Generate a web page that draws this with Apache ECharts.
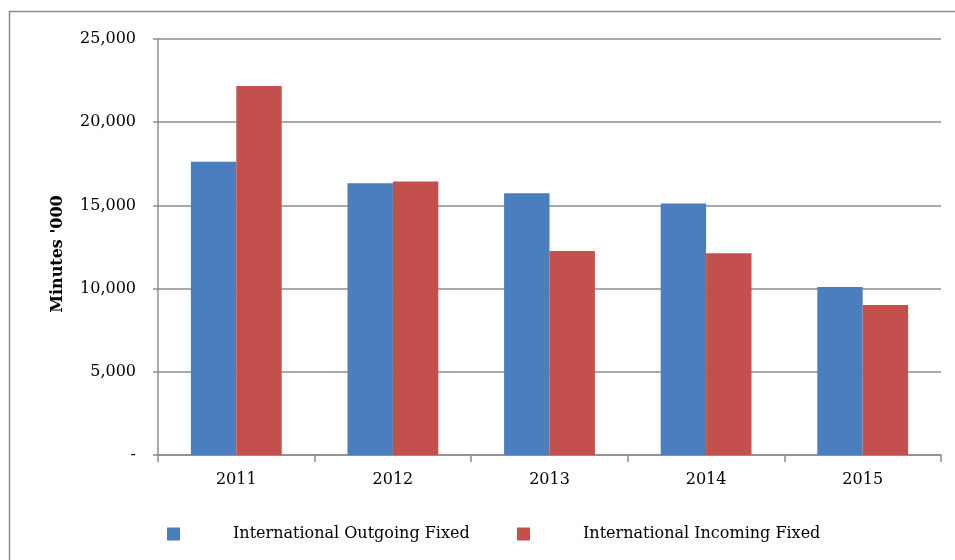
<!DOCTYPE html>
<html>
<head>
<meta charset="utf-8">
<script src="https://cdn.jsdelivr.net/npm/echarts@6/dist/echarts.min.js"></script>
<style>
  html, body { margin: 0; padding: 0; background: #fff; }
  #chart { width: 955px; height: 560px; }
</style>
</head>
<body>
<div id="chart"></div>
<script>
// data (minutes '000)
var years = ['2011', '2012', '2013', '2014', '2015'];
var outgoing = [17630, 16330, 15730, 15120, 10100];
var incoming = [22180, 16430, 12260, 12120, 9010];
var seriesNames = ['International Outgoing Fixed', 'International Incoming Fixed'];

var serif = '"DejaVu Serif", "Liberation Serif", serif';
var gridGrey = '#8c8c8c';

var chart = echarts.init(document.getElementById('chart'));

var option = {
  animation: false,
  textStyle: { fontFamily: serif },
  graphic: [{
    type: 'rect',
    shape: { x: 9.5, y: 11.5, width: 980, height: 600 },
    style: { fill: 'none', stroke: gridGrey, lineWidth: 1.5 },
    silent: true
  }],
  grid: { left: 158, right: 14, top: 39, bottom: 105 },
  legend: [{
    data: [seriesNames[0]],
    left: 162, top: 521,
    itemWidth: 13, itemHeight: 13,
    icon: 'rect',
    textStyle: { fontFamily: serif, fontSize: 16, color: '#000', padding: [0, 0, 0, 48] }
  }, {
    data: [seriesNames[1]],
    left: 512, top: 521,
    itemWidth: 13, itemHeight: 13,
    icon: 'rect',
    textStyle: { fontFamily: serif, fontSize: 16, color: '#000', padding: [0, 0, 0, 48] }
  }],
  xAxis: {
    type: 'category',
    data: years,
    axisLine: { lineStyle: { color: gridGrey, width: 1.5 } },
    axisTick: { show: true, length: 7, lineStyle: { color: gridGrey, width: 1.5 } },
    axisLabel: { color: '#000', fontSize: 16, fontFamily: serif, margin: 17 }
  },
  yAxis: {
    type: 'value',
    min: 0, max: 25000, interval: 5000,
    name: "Minutes '000",
    nameLocation: 'middle',
    nameGap: 92,
    nameTextStyle: {
      fontFamily: serif, fontSize: 16, fontWeight: 'bold', color: '#000',
      padding: [0, 14, 0, 0]
    },
    axisLine: { show: true, lineStyle: { color: gridGrey, width: 1.5 } },
    axisTick: { show: true, length: 5, lineStyle: { color: gridGrey, width: 1.5 } },
    axisLabel: {
      color: '#000', fontSize: 16, fontFamily: serif, margin: 22,
      formatter: function (v) {
        return v === 0 ? '-' : v.toLocaleString('en-US');
      }
    },
    splitLine: { lineStyle: { color: gridGrey, width: 1.5 } }
  },
  series: [{
    name: seriesNames[0],
    type: 'bar',
    data: outgoing,
    barGap: '0%',
    barCategoryGap: '42%',
    itemStyle: { color: '#4A7EBF' }
  }, {
    name: seriesNames[1],
    type: 'bar',
    data: incoming,
    itemStyle: { color: '#C4504E' }
  }]
};

chart.setOption(option);
</script>
</body>
</html>
